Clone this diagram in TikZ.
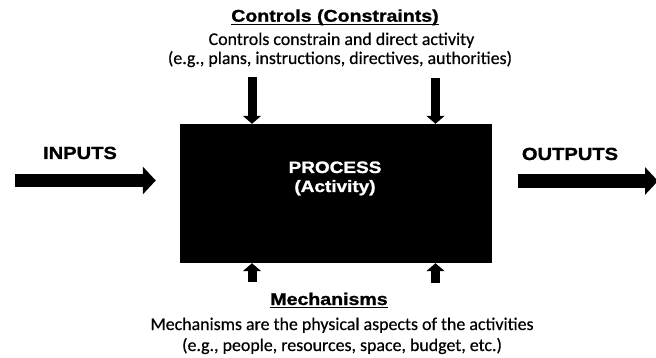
\documentclass[tikz,border=0pt]{standalone}
\usepackage{fontspec}
\setmainfont{Carlito}[FakeBold=0.4]
\newfontfamily\headfont{Liberation Sans Bold}[FakeBold=1.2]
\usepackage{graphicx}
\usetikzlibrary{arrows.meta}

\newcommand{\wideb}[1]{\scalebox{1.15}[1]{#1}}

\tikzset{
	bigarrow/.style={line width=13.5pt, -{Triangle[width=27pt,length=13pt]}},
	smallarrow/.style={line width=9pt, -{Triangle[width=18pt,length=8pt]}},
	headtext/.style={font=\headfont\fontsize{17}{20}\selectfont, inner sep=0pt, anchor=base},
	desctext/.style={font=\fontsize{17.9}{21}\selectfont, inner sep=0pt, anchor=base},
	underbar/.style={line width=1.4pt}
}

\begin{document}
\begin{tikzpicture}[x=1pt, y=-1pt]
			%%%%% FRAME %%%%%
			\useasboundingbox (0,0) rectangle (656,358);
			
			%%%%% PROCESS BOX %%%%%
			\node[fill=black, minimum width=312pt, minimum height=139pt, inner sep=0pt] (process) at (336,193.5) {};
			\node[headtext, text=white, font=\headfont\fontsize{16.5}{20}\selectfont] (proclabel) at (335,173) {\wideb{PROCESS}};
			\node[headtext, text=white, font=\headfont\fontsize{16.5}{20}\selectfont] (actlabel) at (335,192) {\wideb{(Activity)}};
			
			%%%%% INPUTS / OUTPUTS %%%%%
			\node[headtext, font=\headfont\fontsize{17.5}{20}\selectfont] (inputs) at (80,159) {\wideb{INPUTS}};
			\node[headtext, font=\headfont\fontsize{17.5}{20}\selectfont] (outputs) at (570,160) {\wideb{OUTPUTS}};
			
			\coordinate (instart) at (15,180.5);
			\coordinate (outend) at (658,181);
			\draw[bigarrow, shorten >=24pt] (instart) -- (instart -| process.west);
			\draw[bigarrow, shorten <=26pt] (process.east |- outend) -- (outend);
			
			%%%%% CONTROLS %%%%%
			\node[headtext] (ctrltitle) at (335,21.7) {\wideb{Controls (Constraints)}};
			\draw[underbar] ([yshift=-2.6pt]ctrltitle.base west) -- ([yshift=-2.6pt]ctrltitle.base east);
			\node[desctext] (ctrlline1) at (341.5,45) {Controls constrain and direct activity};
			\node[desctext] (ctrlline2) at (340,64) {(e.g., plans, instructions, directives, authorities)};
			
			\coordinate (ctrlA) at (252,77);
			\coordinate (ctrlB) at (435.5,78);
			\draw[smallarrow] (ctrlA) -- (ctrlA |- process.north);
			\draw[smallarrow] (ctrlB) -- (ctrlB |- process.north);
			
			%%%%% MECHANISMS %%%%%
			\coordinate (mechA) at (252,282);
			\coordinate (mechB) at (435.5,283);
			\draw[smallarrow] (mechA) -- (mechA |- process.south);
			\draw[smallarrow] (mechB) -- (mechB |- process.south);
			
			\node[headtext] (mechtitle) at (329,305) {\wideb{Mechanisms}};
			\draw[underbar] ([yshift=-2.6pt]mechtitle.base west) -- ([yshift=-2.6pt]mechtitle.base east);
			\node[desctext] (mechline1) at (342,330) {Mechanisms are the physical aspects of the activities};
			\node[desctext] (mechline2) at (342,351) {(e.g., people, resources, space, budget, etc.)};
			
			%%%%% END %%%%%
\end{tikzpicture}
\end{document}
